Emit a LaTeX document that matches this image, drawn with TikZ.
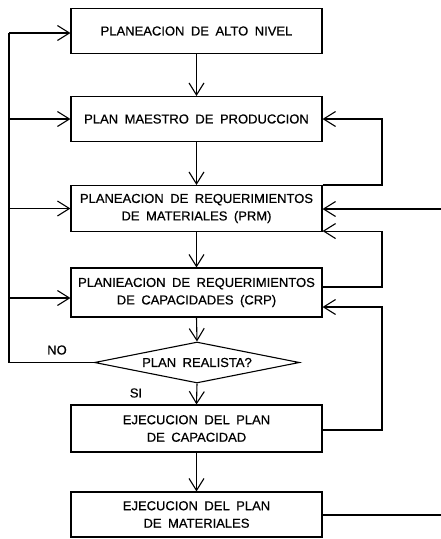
\documentclass[tikz,border=0pt]{standalone}
\usepackage{fontspec}
\setmainfont{Liberation Sans}[FakeBold=0.6]
\usetikzlibrary{arrows.meta,shapes.geometric}
\newcommand\widespaces{\spaceskip=6.5pt\relax}
\begin{document}
\begin{tikzpicture}[x=1pt,y=-1pt,
  line width=1.1pt,
  every node/.style={font=\fontsize{13}{17.5}\selectfont\widespaces},
  box/.style={draw,rectangle,minimum width=251pt,inner sep=0pt,align=center},
  arr/.style={-{Straight Barb[length=12pt,width=15pt,line width=1.1pt]}},
  lbl/.style={inner sep=0pt}]
\useasboundingbox (0,0) rectangle (441,539);
\node[box,minimum height=45pt] (b1) at (196.5,31) {PLANEACION DE ALTO NIVEL};
\node[box,minimum height=45pt] (b2) at (196.5,119) {PLAN MAESTRO DE PRODUCCION};
\node[box,minimum height=46pt] (b3) at (196.5,208.5) {PLANEACION DE REQUERIMIENTOS\\DE MATERIALES (PRM)};
\node[box,minimum height=49pt] (b4) at (196.5,292.5) {PLANIEACION DE REQUERIMIENTOS\\DE CAPACIDADES (CRP)};
\node[draw,diamond,minimum width=205pt,minimum height=41pt,inner sep=0pt,aspect=5] (d) at (197,362.5) {\makebox[0pt]{PLAN REALISTA?}};
\node[box,minimum height=47pt] (b5) at (196.5,428.5) {EJECUCION DEL PLAN\\DE CAPACIDAD};
\node[box,minimum height=45pt] (b6) at (196.5,514.5) {EJECUCION DEL PLAN\\DE MATERIALES};
\node[lbl] (no) at (57,350) {NO};
\node[lbl] (si) at (136,393) {SI};
% main flow
\draw[arr] (b1) -- (b2);
\draw[arr] (b2) -- (b3);
\draw[arr] (b3) -- (b4);
\draw[arr] (b4.south) -- (d.north);
\draw[arr] (d.south) -- (b5.north);
\draw[arr] (b5) -- (b6);
% left loop
\coordinate (L) at (9,362.5);
\draw (d.west) -- (L) -- (L |- 0,33);
\draw[arr] (L |- 0,33) -- (b1.west |- 0,33);
\draw[arr] (L |- b2.west) -- (b2.west);
\draw[arr] (L |- b3.west) -- (b3.west);
\draw[arr] (L |- 0,298) -- (b4.west |- 0,298);
% right loops
\coordinate (R) at (382,0);
\draw[arr] (b3.north east) -- (R |- b3.north east) |- (b2.east);
\draw[arr] (b4.east |- 0,287) -- (R |- 0,287) |- ([yshift=1pt]b3.south east);
\draw[arr] (b5.east |- 0,430) -- (R |- 0,430) |- (b4.east |- 0,307);
\coordinate (in3) at (441,209);
\draw[arr] (in3) -- (b3.east |- in3);
\coordinate (out6) at (441,515);
\draw (b6.east |- out6) -- (out6);
\end{tikzpicture}
\end{document}
